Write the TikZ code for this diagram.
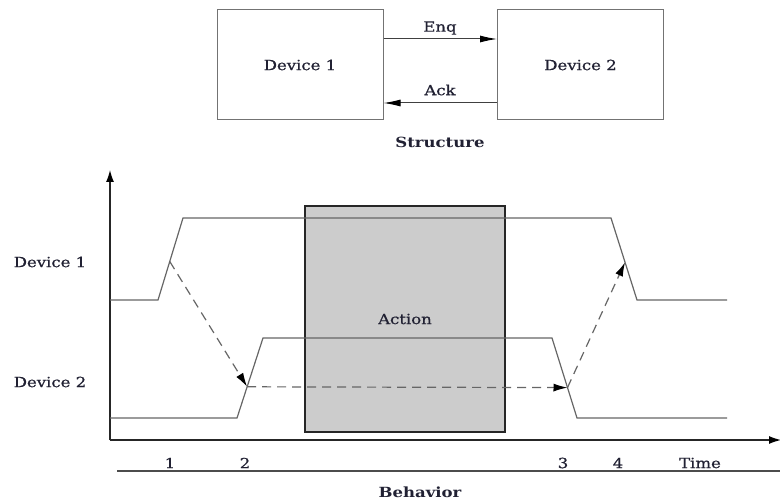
\documentclass[tikz,border=0pt]{standalone}
\usepackage{fontspec}
\setmainfont{DejaVu Serif}
\newfontfamily\labelfont{DejaVu Serif}[FakeBold=0.6]
\usetikzlibrary{arrows.meta,calc}
\definecolor{ink}{rgb}{0.13,0.13,0.2}
\newcommand{\widetext}[1]{\scalebox{1.18}[1]{#1}}
\begin{document}
\begin{tikzpicture}[x=1pt,y=-1pt,
  lbl/.style={font=\labelfont\fontsize{14}{16}\selectfont, text=ink, inner sep=0pt},
  ttl/.style={font=\fontsize{14}{16}\selectfont\bfseries, text=ink, inner sep=0pt},
  devbox/.style={draw=black!55, line width=1pt, minimum width=166pt, minimum height=110pt, inner sep=0pt},
  link/.style={draw=black!75, line width=1pt, -{Latex[length=17pt,width=7pt,color=black]}},
  sig/.style={draw=black!60, line width=1.2pt},
  msg/.style={draw=black!60, line width=1.2pt, dash pattern=on 9pt off 6pt, -{Latex[length=14pt,width=8pt,color=black]}},
  axis/.style={draw=black!85, line width=1.2pt, -{Latex[length=12pt,width=8pt,color=black]}},
  actbox/.style={draw=black!85, fill=black!20, line width=1.2pt, minimum width=200pt, minimum height=226pt, inner sep=0pt}
]
% page
\fill[white] (0,0) rectangle (780,500);
\useasboundingbox (0,0) rectangle (780,500);

% ---------- structure ----------
\node[devbox] (d1) at (300,65) {};
\node[devbox] (d2) at (580.5,65) {};
\node[lbl] (d1t) at (300,65) {\widetext{Device 1}};
\node[lbl] (d2t) at (580.5,65) {\widetext{Device 2}};
\draw[link] ([yshift=26pt]d1.east) -- ([yshift=26pt]d2.west);
\draw[link] ([yshift=-38pt]d2.west) -- ([yshift=-38pt]d1.east);
\node[lbl] (enq) at (440,28) {\widetext{Enq}};
\node[lbl] (ack) at (440,90) {\widetext{Ack}};
\node[ttl] (struct) at (440,142) {\widetext{Structure}};

% ---------- behavior ----------
% action interval (under the waveforms)
\node[actbox] (act) at (405,319) {};
\node[lbl] (actt) at (405,319) {\widetext{Action}};

% axes
\coordinate (org) at (110,440);
\coordinate (ytop) at (110,170);
\coordinate (xend) at (781,440);
\draw[axis] (org) -- (ytop);
\draw[axis] (org) -- (xend);

% Device 1 waveform
\coordinate (a0) at (110,300);
\coordinate (a1) at (158,300);
\coordinate (a2) at (183,218);
\coordinate (a3) at (611,218);
\coordinate (a4) at (637,300);
\coordinate (a5) at (727,300);
\draw[sig] (a0) -- (a1) -- (a2) -- (a3) -- (a4) -- (a5);

% Device 2 waveform
\coordinate (b0) at (110,418);
\coordinate (b1) at (237,418);
\coordinate (b2) at (263,338);
\coordinate (b3) at (552,338);
\coordinate (b4) at (577,418);
\coordinate (b5) at (727,418);
\draw[sig] (b0) -- (b1) -- (b2) -- (b3) -- (b4) -- (b5);

% handshake events
\coordinate (e1) at ($(a1)!0.47!(a2)$);
\coordinate (e2) at ($(b1)!0.39!(b2)$);
\coordinate (e3) at ($(b3)!0.62!(b4)$);
\coordinate (e4) at ($(a3)!0.54!(a4)$);
\draw[msg] (e1) -- (e2);
\draw[msg] (e2) -- (e3);
\draw[msg] (e3) -- (e4);

% signal names
\node[lbl] (s1) at (50,262) {\widetext{Device 1}};
\node[lbl] (s2) at (50,382) {\widetext{Device 2}};

% time marks
\node[lbl] (t1) at (170,463) {\widetext{1}};
\node[lbl] (t2) at (245,463) {\widetext{2}};
\node[lbl] (t3) at (563,463) {\widetext{3}};
\node[lbl] (t4) at (618,463) {\widetext{4}};
\node[lbl] (tt) at (700,463) {\widetext{Time}};
\coordinate (r0) at (117,471);
\coordinate (r1) at (780,471);
\draw[draw=black!70, line width=1.2pt] (r0) -- (r1);
\node[ttl] (beh) at (420,492) {\widetext{Behavior}};
\end{tikzpicture}
\end{document}
